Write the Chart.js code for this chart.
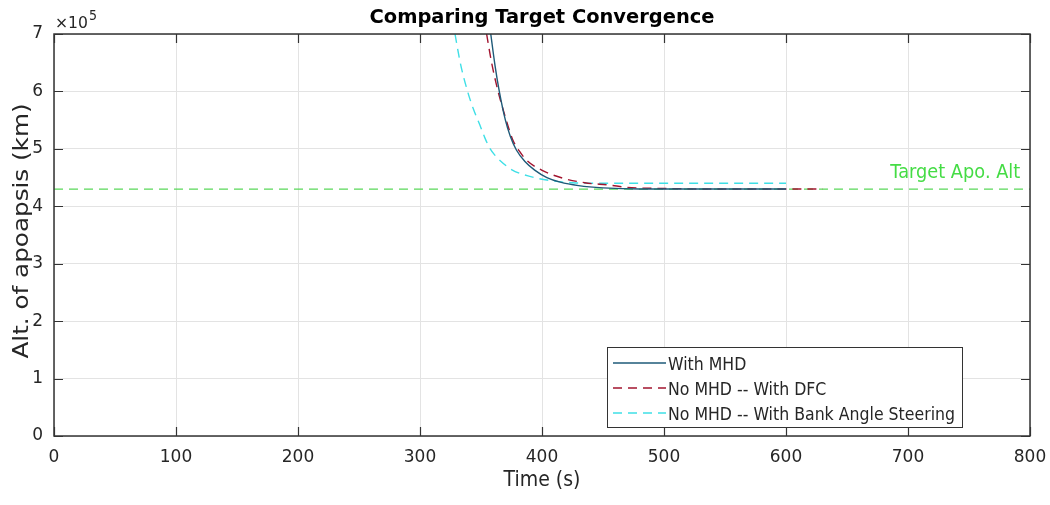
<!DOCTYPE html>
<html>
<head>
<meta charset="utf-8">
<script src="https://cdn.jsdelivr.net/npm/chart.js@4.4.1/dist/chart.umd.min.js"></script>
<style>
html,body{margin:0;padding:0;background:#fff;}
canvas{display:block;}
</style>
</head>
<body>
<canvas id="c" width="1050" height="505"></canvas>
<script>
// ---------- data ----------
const chartTitle = 'Comparing Target Convergence';
const xTitle = 'Time (s)';
const yTitle = 'Alt. of apoapsis (km)';
const seriesNames = ['With MHD', 'No MHD -- With DFC', 'No MHD -- With Bank Angle Steering'];
const targetLabel = 'Target Apo. Alt';
const xTickValues = [0, 100, 200, 300, 400, 500, 600, 700, 800];
const yTickValues = [0, 100000, 200000, 300000, 400000, 500000, 600000, 700000];
const yExponentBase = '\u00d710';
const yExponent = '5';

// With MHD (time s, altitude km)
const tMHD   = [358, 361.5, 365, 370, 374, 379, 386, 394, 404, 415, 430, 450, 480, 520, 560, 600];
const altMHD = [700000, 645000, 600000, 550000, 522000, 498000, 478000, 463000, 450000, 442000, 436000, 432000, 430000, 430000, 430000, 430000];

// No MHD -- With DFC
const tDFC   = [354.6, 358.7, 364, 370, 376, 381.5, 387.5, 399.7, 417, 435, 455, 470, 500, 550, 600, 630];
const altDFC = [700000, 650000, 600000, 555000, 516000, 496000, 480000, 463000, 449000, 441000, 437000, 433000, 431000, 430000, 430000, 430000];

// No MHD -- With Bank Angle Steering
const tBank   = [328.7, 333, 339, 344, 349, 353, 357, 361, 366, 375, 390, 406, 425, 450, 500, 550, 600];
const altBank = [700000, 650000, 600000, 568000, 542000, 520000, 502000, 490000, 479000, 464000, 452000, 445000, 441000, 440000, 440000, 440000, 440000];

// Target apoapsis altitude
const targetAlt = 430000;
const targetSpan = [0, 800];

// ---------- helpers ----------
const pts = (xs, ys) => xs.map((x, i) => ({x: x, y: ys[i]}));
const FONT = '"DejaVu Sans", sans-serif';
const AXIS_COLOR = '#333333';
const TEXT_COLOR = '#262626';

function fitText(ctx, text, x, y, font, width, align, color, rot) {
  ctx.save();
  ctx.font = font;
  const m = ctx.measureText(text).width;
  const sx = width / m;
  ctx.translate(x, y);
  if (rot) ctx.rotate(rot);
  ctx.scale(sx, 1);
  ctx.textAlign = align;
  ctx.textBaseline = 'alphabetic';
  ctx.fillStyle = color;
  ctx.fillText(text, 0, 0);
  ctx.restore();
}

const decorPlugin = {
  id: 'decor',
  afterDatasetsDraw(chart) {
    const ctx = chart.ctx;
    const a = chart.chartArea;
    const xs = chart.scales.x, ys = chart.scales.y;
    // target label
    fitText(ctx, targetLabel, xs.getPixelForValue(792), ys.getPixelForValue(targetAlt) - 11,
      '19px ' + FONT, 130, 'right', '#45dc45');
    // axes box
    ctx.save();
    ctx.strokeStyle = AXIS_COLOR;
    ctx.lineWidth = 1.5;
    ctx.strokeRect(a.left, a.top, a.right - a.left, a.bottom - a.top);
    ctx.lineWidth = 1.2;
    const tl = 9;
    ctx.beginPath();
    xTickValues.forEach(v => {
      const px = Math.round(xs.getPixelForValue(v)) + 0.5;
      ctx.moveTo(px, a.bottom); ctx.lineTo(px, a.bottom - tl);
      ctx.moveTo(px, a.top); ctx.lineTo(px, a.top + tl);
    });
    yTickValues.forEach(v => {
      const py = Math.round(ys.getPixelForValue(v)) + 0.5;
      ctx.moveTo(a.left, py); ctx.lineTo(a.left + tl, py);
      ctx.moveTo(a.right, py); ctx.lineTo(a.right - tl, py);
    });
    ctx.stroke();
    ctx.restore();

    // legend box
    const lx = 607, ly = 347, lw = 355, lh = 80;
    ctx.save();
    ctx.fillStyle = '#ffffff';
    ctx.fillRect(lx, ly, lw, lh);
    ctx.strokeStyle = AXIS_COLOR;
    ctx.lineWidth = 1;
    ctx.strokeRect(lx + 0.5, ly + 0.5, lw, lh);
    ctx.font = '18px ' + FONT;
    const longest = seriesNames.reduce((p, c) => ctx.measureText(c).width > ctx.measureText(p).width ? c : p);
    const sx = 287 / ctx.measureText(longest).width;
    chart.data.datasets.slice(0, 3).forEach((ds, i) => {
      const cy = 363 + i * 25;
      ctx.save();
      ctx.strokeStyle = ds.borderColor;
      ctx.lineWidth = ds.borderWidth;
      ctx.setLineDash(ds.borderDash || []);
      ctx.beginPath();
      ctx.moveTo(613, cy); ctx.lineTo(666, cy);
      ctx.stroke();
      ctx.restore();
      ctx.save();
      ctx.translate(668, cy + 7);
      ctx.scale(sx, 1);
      ctx.fillStyle = TEXT_COLOR;
      ctx.textAlign = 'left';
      ctx.textBaseline = 'alphabetic';
      ctx.fillText(ds.label, 0, 0);
      ctx.restore();
    });
    ctx.restore();
  },
  afterDraw(chart) {
    const ctx = chart.ctx;
    const a = chart.chartArea;
    const cx = (a.left + a.right) / 2;
    fitText(ctx, chartTitle, cx, 22.5, 'bold 20px ' + FONT, 345, 'center', '#000000');
    fitText(ctx, xTitle, cx, 486, '22px ' + FONT, 77, 'center', TEXT_COLOR);
    fitText(ctx, yTitle, 28, (a.top + a.bottom) / 2 - 4, '21px ' + FONT, 255, 'center', TEXT_COLOR, -Math.PI / 2);
    fitText(ctx, yExponentBase, 55, 28, '15px ' + FONT, 33, 'left', TEXT_COLOR);
    fitText(ctx, yExponent, 89, 20, '14px ' + FONT, 8, 'left', TEXT_COLOR);
  }
};

const dashed = [9, 6];
new Chart(document.getElementById('c'), {
  type: 'line',
  data: {
    datasets: [
      {label: seriesNames[0], data: pts(tMHD, altMHD), borderColor: '#1e5a78', borderWidth: 1.4,
       pointRadius: 0, cubicInterpolationMode: 'monotone', fill: false},
      {label: seriesNames[1], data: pts(tDFC, altDFC), borderColor: '#a2142f', borderWidth: 1.4,
       borderDash: dashed, pointRadius: 0, cubicInterpolationMode: 'monotone', fill: false},
      {label: seriesNames[2], data: pts(tBank, altBank), borderColor: '#3fdfe6', borderWidth: 1.4,
       borderDash: dashed, pointRadius: 0, cubicInterpolationMode: 'monotone', fill: false},
      {label: targetLabel, data: pts(targetSpan, [targetAlt, targetAlt]), borderColor: '#5ad85a', borderWidth: 1.2,
       borderDash: dashed, pointRadius: 0, fill: false}
    ]
  },
  options: {
    responsive: false,
    animation: false,
    devicePixelRatio: 1,
    layout: {padding: {top: 34, right: 20, left: 0, bottom: 0}},
    plugins: {legend: {display: false}, title: {display: false}, tooltip: {enabled: false}},
    scales: {
      x: {
        type: 'linear', min: 0, max: 800,
        afterBuildTicks: s => { s.ticks = xTickValues.map(v => ({value: v})); },
        afterFit: s => { s.height = 69; s.paddingLeft = 0; s.paddingRight = 0; },
        grid: {color: '#e3e3e3', lineWidth: 1, drawTicks: false},
        border: {display: false},
        ticks: {padding: 11, color: TEXT_COLOR, font: {family: FONT, size: 17}, maxRotation: 0}
      },
      y: {
        type: 'linear', min: 0, max: 700000,
        afterBuildTicks: s => { s.ticks = yTickValues.map(v => ({value: v})); },
        afterFit: s => { s.width = 54; s.paddingTop = 0; s.paddingBottom = 0; },
        grid: {color: '#e3e3e3', lineWidth: 1, drawTicks: false},
        border: {display: false},
        ticks: {padding: 11, color: TEXT_COLOR, font: {family: FONT, size: 17},
                callback: v => String(v / 100000)}
      }
    }
  },
  plugins: [decorPlugin]
});
</script>
</body>
</html>
